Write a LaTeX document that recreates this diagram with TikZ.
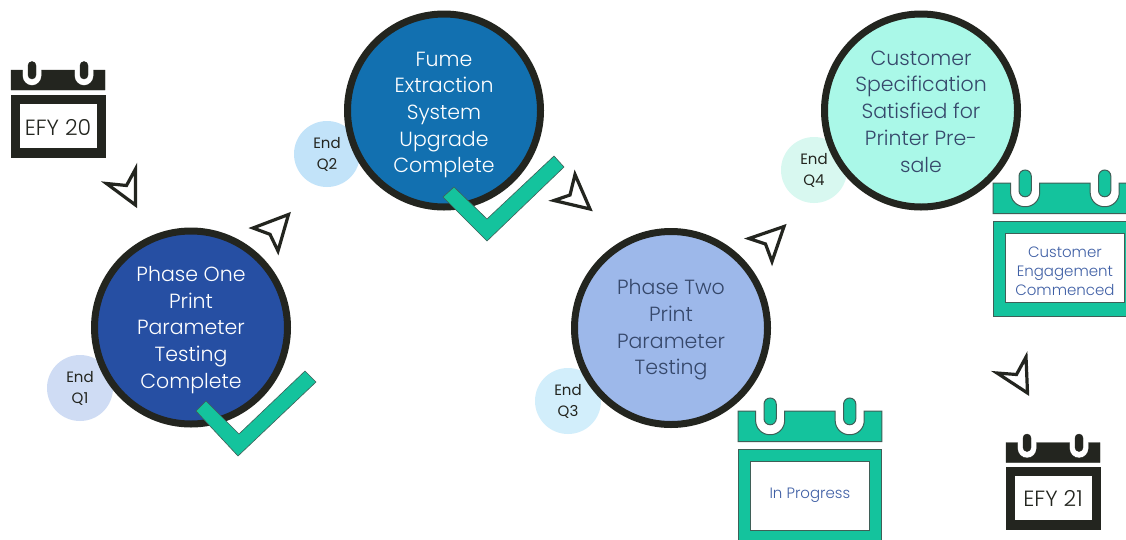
\documentclass[tikz,border=0pt]{standalone}
\usepackage{fontspec}
\setmainfont{Poppins Light}
\newfontfamily\popreg{Poppins}
\definecolor{ink}{HTML}{23251F}
\definecolor{teal}{HTML}{14C39D}
\definecolor{tealedge}{HTML}{3F5F57}
\definecolor{navy}{HTML}{264FA3}
\definecolor{ocean}{HTML}{1270B0}
\definecolor{periw}{HTML}{9DB8EA}
\definecolor{mint}{HTML}{AAF8E8}
\definecolor{smallA}{HTML}{CFDCF4}
\definecolor{smallB}{HTML}{C2E3F9}
\definecolor{smallC}{HTML}{D2EEFB}
\definecolor{smallD}{HTML}{D8F8F0}
\definecolor{calblue}{HTML}{3F5FA5}
\definecolor{darktext}{HTML}{36486B}
\tikzset{
  milestone/.style={circle,draw=ink,line width=7pt,minimum size=193pt,inner sep=0pt},
  milestonetext/.style={inner sep=0pt,align=center,font=\fontsize{20.5}{26.7}\selectfont},
  quarter/.style={circle,minimum size=66pt,inner sep=0pt,align=center,text=ink,
    font=\popreg\fontsize{15}{21}\selectfont},
  tick/.style={fill=teal,draw=tealedge,line width=.6pt,line join=miter},
  pointer/.style={draw=ink,fill=white,line width=3.2pt,line join=miter,miter limit=10},
}
% #1 name, #2 x, #3 y, #4 scale, #5 fill, #6 edge, #7 edge width, #8 text style, #9 text
\newcommand{\calendarmark}[9]{%
  \begin{scope}[shift={(#2,#3)},x=#4pt,y=-#4pt,fill=#5,draw=#6,line width=#7pt]
    \pgfmathsetmacro{\notchr}{9.3*#4}\pgfmathsetmacro{\pegr}{4*#4}%
    \pgfmathsetmacro{\innerw}{78*#4}\pgfmathsetmacro{\innerh}{45*#4}%
    \filldraw (0,0) -- (11.5,0) [rounded corners=\notchr pt] -- (11.5,15.5) -- (30.5,15.5) [sharp corners] -- (30.5,0)
      -- (63.5,0) [rounded corners=\notchr pt] -- (63.5,15.5) -- (82.5,15.5) [sharp corners] -- (82.5,0)
      -- (94,0) -- (94,20) -- (0,20) -- cycle;
    \filldraw[rounded corners=\pegr pt] (17,-8.5) rectangle (25,9);
    \filldraw[rounded corners=\pegr pt] (69,-8.5) rectangle (77,9);
    \filldraw (0,25) rectangle (94,87);
    \node[draw=#6,fill=white,line width=#7pt,minimum width=\innerw pt,minimum height=\innerh pt,inner sep=0pt] (#1) at (47,55.5) {};
    \node[inner sep=0pt,align=center,#8] (#1-label) at (47,55.5) {#9};
  \end{scope}}
\begin{document}
\begin{tikzpicture}[x=1pt,y=-1pt]
\clip (0,0) rectangle (1126,539);
\fill[white] (0,0) rectangle (1126,539);

% small quarter discs
\node[quarter,fill=smallA] (q1) at (80,388) {End\\Q1};
\node[quarter,fill=smallB] (q2) at (327,154) {End\\Q2};
\node[quarter,fill=smallC] (q3) at (568,401) {End\\Q3};
\node[quarter,fill=smallD] (q4) at (814,170) {End\\Q4};

% milestones
\node[milestone,fill=navy] (m1) at (191,327.5) {};
\node[milestone,fill=ocean] (m2) at (444,110.5) {};
\node[milestone,fill=periw] (m3) at (671,328) {};
\node[milestone,fill=mint] (m4) at (921,110.5) {};
\node[milestonetext,text=white,yshift=-2.5pt] (m1-label) at (m1.center) {Phase One\\Print\\Parameter\\Testing\\Complete};
\node[milestonetext,text=white,yshift=-4.5pt] (m2-label) at (m2.center) {Fume\\Extraction\\System\\Upgrade\\Complete};
\node[milestonetext,text=darktext,yshift=-2pt] (m3-label) at (m3.center) {Phase Two\\Print\\Parameter\\Testing};
\node[milestonetext,text=darktext,yshift=-1pt] (m4-label) at (m4.center) {Customer\\Specification\\Satisfied for\\Printer Pre-\\sale};

% ticks
\draw[tick] (206,401) -- (196,411) -- (238,456) -- (316,382) -- (305,371) -- (239,434) -- cycle;
\draw[tick] (454,187) -- (443,197) -- (487,241) -- (564,167) -- (554,156) -- (487,219) -- cycle;

% pointers
\draw[pointer] (135.5,169) -- (126.5,185.5) -- (106.5,183.5) -- (135.5,205) -- cycle;
\draw[pointer] (288.5,214.5) -- (253,228) -- (270,234.3) -- (278,251) -- cycle;
\draw[pointer] (575,174.5) -- (570,195) -- (554,200.5) -- (590,209) -- cycle;
\draw[pointer] (784,226.5) -- (749,238.5) -- (765.5,244) -- (772,261.5) -- cycle;
\draw[pointer] (1026,357) -- (1016.5,374.5) -- (997,373) -- (1027.5,393) -- cycle;

% calendars
\calendarmark{efy20}{11}{70}{1}{ink}{ink}{0.4}{font=\fontsize{22}{24}\selectfont,text=ink,yshift=-2pt}{EFY 20}
\calendarmark{efy21}{1006}{442.5}{1}{ink}{ink}{0.4}{font=\fontsize{22}{24}\selectfont,text=ink}{EFY 21}
\calendarmark{progress}{738}{411}{1.53}{teal}{tealedge}{1}{font=\fontsize{15}{19}\selectfont,text=calblue,yshift=1pt}{In Progress}
\calendarmark{engage}{993}{183}{1.53}{teal}{tealedge}{1}{font=\fontsize{15}{19}\selectfont,text=calblue,yshift=-3pt}{Customer\\Engagement\\Commenced}
\end{tikzpicture}
\end{document}
